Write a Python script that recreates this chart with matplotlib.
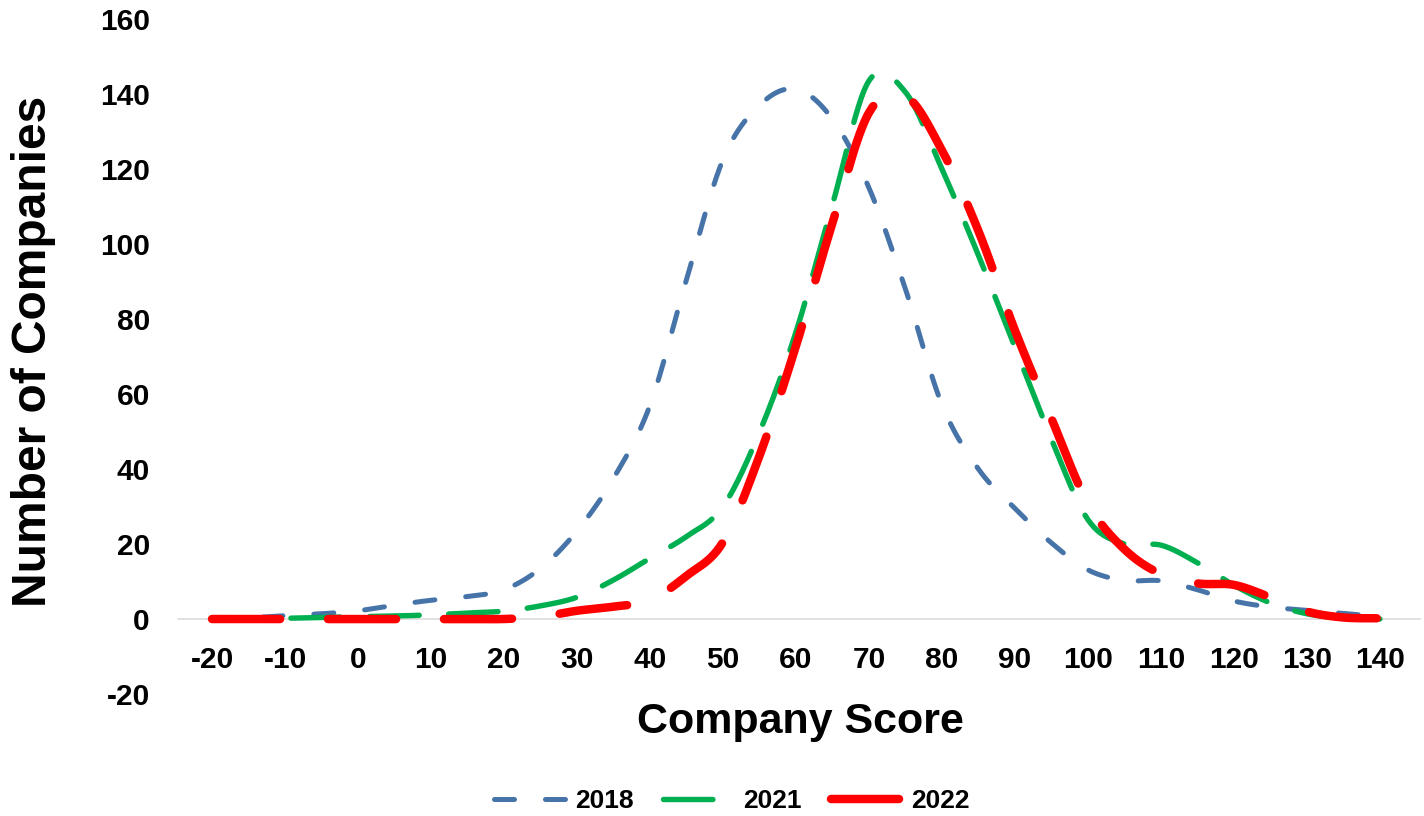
import numpy as np
import matplotlib
matplotlib.use("Agg")
import matplotlib.pyplot as plt

plt.rcParams["font.family"] = ["Liberation Sans", "DejaVu Sans"]
plt.rcParams["font.weight"] = "bold"
plt.rcParams["lines.scale_dashes"] = False
plt.rcParams["axes.unicode_minus"] = False

# company score bins and number of companies per year
scores = [-20, -15, -10, -5, 0, 5, 10, 15, 20, 25, 30, 35, 40, 45, 50, 55, 60,
          65, 70, 75, 80, 85, 90, 95, 100, 105, 110, 115, 120, 125, 130, 135, 140]
counts_2018 = [0, 0.3, 0.9, 1.4, 2.2, 3.7, 5.0, 6.0, 7.8, 13.5, 23.5, 37.5, 57.0,
               90.5, 122.5, 137.0, 141.3, 133.3, 115.0, 88.0, 57.2, 40.0, 29.5,
               20.3, 13.1, 10.3, 10.2, 7.8, 4.8, 3.2, 2.3, 1.5, 0.6]
counts_2021 = [0, 0, 0.2, 0.4, 0.6, 0.8, 1.1, 1.6, 2.1, 3.5, 5.8, 10.4, 16.2,
               22.0, 30.0, 49.8, 76.5, 110.5, 143.5, 140.5, 120.0, 97.0, 72.5,
               48.0, 26.5, 20.0, 19.7, 15.0, 9.0, 4.3, 1.4, 0.3, 0.0]
counts_2022 = [0, 0, 0, 0, 0, 0, 0, 0, 0, 0.6, 2.2, 3.3, 5.0,
               11.5, 20.5, 43.5, 72.8, 105.6, 135.0, 139.5, 125.0, 103.5, 77.0,
               53.5, 30.8, 18.6, 12.0, 9.5, 9.1, 5.8, 2.0, 0.4, 0.2]

x_ticks = [-20, -10, 0, 10, 20, 30, 40, 50, 60, 70, 80, 90, 100, 110, 120, 130, 140]
y_ticks = [-20, 0, 20, 40, 60, 80, 100, 120, 140, 160]


def smooth(x, y, n=24):
    # Bezier smoothing through every point (same idea as spreadsheet "smoothed line")
    p = np.column_stack([x, y]).astype(float)
    ext = np.vstack([p[0], p, p[-1]])
    t = np.linspace(0, 1, n, endpoint=False)[:, None]
    parts = []
    for i in range(len(p) - 1):
        p0, p1, p2, p3 = ext[i], ext[i + 1], ext[i + 2], ext[i + 3]
        c1 = p1 + (p2 - p0) / 6
        c2 = p2 - (p3 - p1) / 6
        parts.append((1 - t) ** 3 * p1 + 3 * (1 - t) ** 2 * t * c1
                     + 3 * (1 - t) * t ** 2 * c2 + t ** 3 * p2)
    parts.append(p[-1:])
    out = np.vstack(parts)
    return out[:, 0], out[:, 1]


fig = plt.figure(figsize=(14.24, 8.16), dpi=100)
ax = fig.add_axes([0.1248, 0.1495, 0.8724, 0.8272])

series = [
    ("2018", counts_2018, "#4674A8", 3.6, (0, (14.4, 22.3))),
    ("2021", counts_2021, "#00B050", 3.9, (0, (35.6, 21.2))),
    ("2022", counts_2022, "#FF0000", 6.1, (0, (49.0, 34.5))),
]
for label, counts, color, lw, dash in series:
    sx, sy = smooth(scores, counts)
    ax.plot(sx, sy, color=color, lw=lw, linestyle=dash, label=label,
            dash_capstyle="round", solid_capstyle="round")

ax.set_xlim(-24.7, 145.5)
ax.set_ylim(-20, 160)
ax.set_xticks(x_ticks)
ax.set_xticklabels([str(v) for v in x_ticks])
ax.set_yticks(y_ticks)
ax.set_yticklabels([str(v) for v in y_ticks])

for side in ("top", "right", "left"):
    ax.spines[side].set_visible(False)
ax.spines["bottom"].set_position(("data", 0))
ax.spines["bottom"].set_color("#D9D9D9")
ax.spines["bottom"].set_linewidth(1.1)
ax.spines["bottom"].set_zorder(0)

ax.tick_params(axis="x", length=0, pad=19.5, labelsize=21.5)
ax.tick_params(axis="y", length=0, pad=20, labelsize=21.5)

fig.text(0.5618, 0.1152, "Company Score", ha="center", va="center",
         fontsize=31, fontweight="bold")
fig.text(0.0235, 0.569, "Number of Companies", ha="center", va="center",
         rotation=90, fontsize=34.5, fontweight="bold")

fig.legend(loc="center", bbox_to_anchor=(0.514, 0.018), ncol=3, frameon=False,
           handlelength=2.8, handletextpad=0.25, columnspacing=1.1,
           borderpad=0.1, prop={"weight": "bold", "size": 19})

fig.savefig("out.png", dpi=100)
